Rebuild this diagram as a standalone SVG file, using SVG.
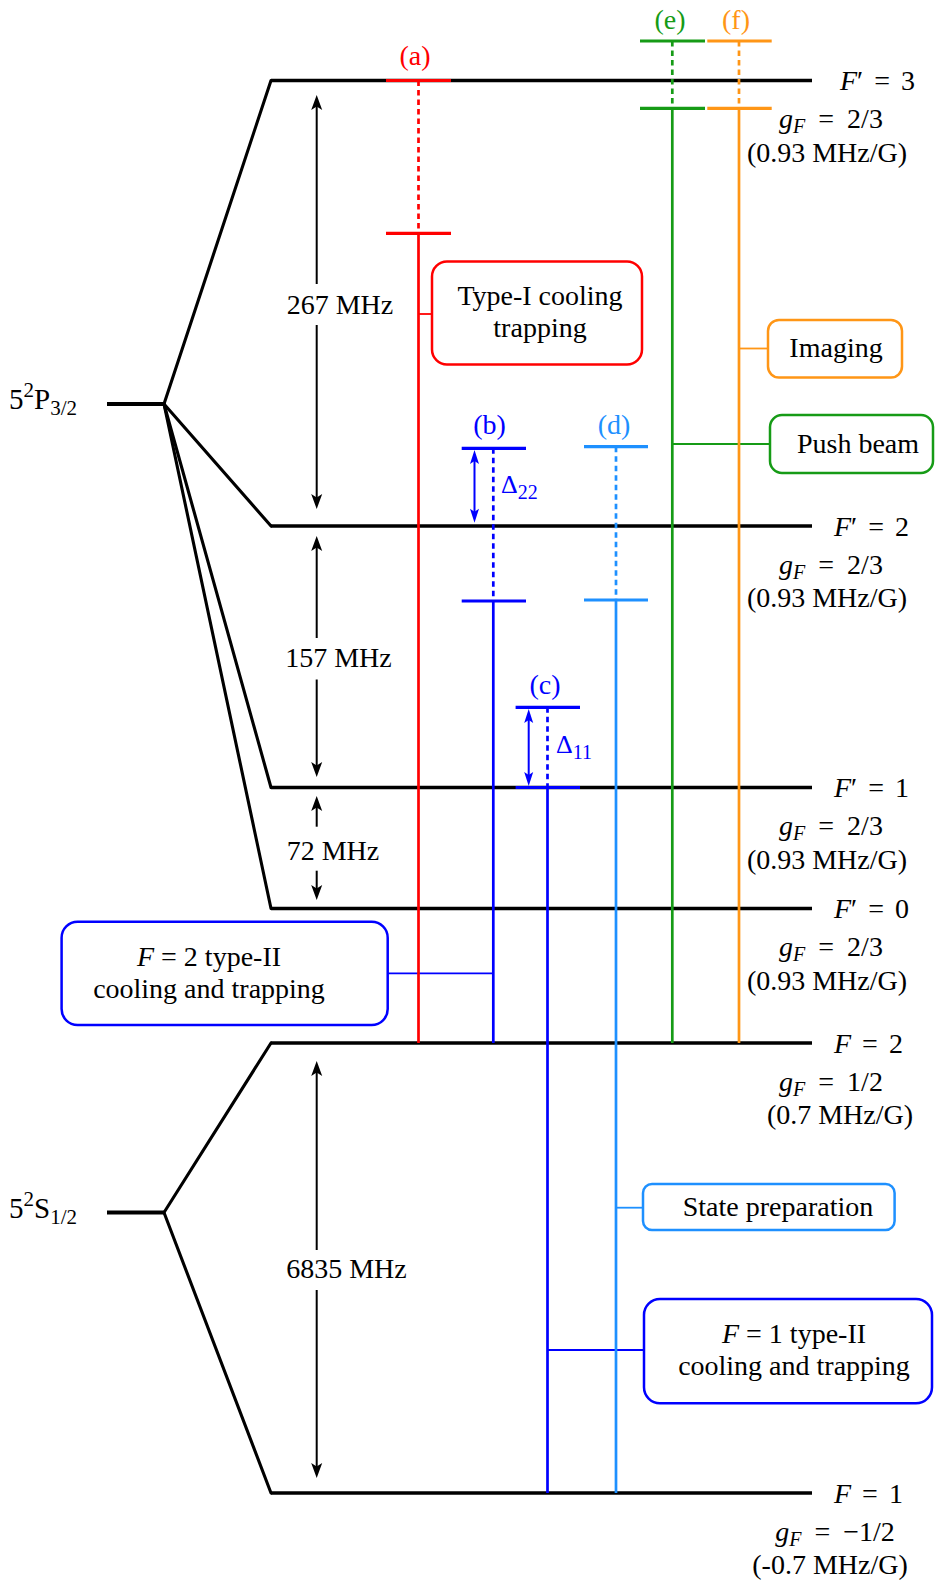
<svg xmlns="http://www.w3.org/2000/svg" width="935" height="1584" viewBox="0 0 935 1584">
<style>
text{font-family:"Liberation Serif","Times New Roman",serif;font-size:28px;fill:#000}
.it{font-style:italic}
.sub{font-size:20px}
.m{word-spacing:4px}
.g{word-spacing:6px}
.lvl{stroke:#000;stroke-width:3.4;fill:none}
.fan{stroke:#000;stroke-width:3.1;fill:none;stroke-linecap:round}
.box{fill:#fff;stroke-width:2.5}
.conn{stroke-width:1.8;fill:none}
.v{stroke-width:2.7;fill:none}
.d{stroke-width:2.7;fill:none;stroke-dasharray:5.5 4}
.tk{stroke-width:3.2;fill:none}
.arr{stroke:#000;stroke-width:2;fill:none}
.barr{stroke:#0000ff;stroke-width:2;fill:none}
.red{stroke:#ff0000}
.blue{stroke:#0000ff}
.lb{stroke:#1e90ff}
.grn{stroke:#169b16}
.org{stroke:#ff9616}
</style>
<defs>
<marker id="ah" markerUnits="userSpaceOnUse" viewBox="-10 -8 20 16" markerWidth="20" markerHeight="16" refX="0" refY="0" orient="auto-start-reverse">
<path d="M8,0 L-7,-5.5 L-3.5,0 L-7,5.5 Z" fill="#000"/>
</marker>
<marker id="bh" markerUnits="userSpaceOnUse" viewBox="-10 -8 20 16" markerWidth="20" markerHeight="16" refX="0" refY="0" orient="auto-start-reverse">
<path d="M6,0 L-8,-4.5 L-5,0 L-8,4.5 Z" fill="#0000ff"/>
</marker>
</defs>
<rect width="935" height="1584" fill="#fff"/>

<!-- fine structure and hyperfine levels -->
<g id="P32">
<line class="lvl" x1="107" y1="404" x2="164" y2="404" style="stroke-width:3.8"/>
<text x="9" y="409" style="font-size:29px">5<tspan class="sub" dy="-12" style="font-size:21px">2</tspan><tspan dy="12">P</tspan><tspan class="sub" dy="6" style="font-size:21px">3/2</tspan></text>
<line class="fan" x1="164" y1="404" x2="271" y2="80.5"/>
<line class="fan" x1="164" y1="404" x2="271" y2="526"/>
<line class="fan" x1="164" y1="404" x2="271" y2="787.5"/>
<line class="fan" x1="164" y1="404" x2="271" y2="908.5"/>
</g>
<g id="S12">
<line class="lvl" x1="107" y1="1212.5" x2="164" y2="1212.5" style="stroke-width:3.8"/>
<text x="9" y="1217.5" style="font-size:29px">5<tspan class="sub" dy="-12" style="font-size:21px">2</tspan><tspan dy="12">S</tspan><tspan class="sub" dy="6" style="font-size:21px">1/2</tspan></text>
<line class="fan" x1="164" y1="1212.5" x2="271" y2="1043"/>
<line class="fan" x1="164" y1="1212.5" x2="271" y2="1493"/>
</g>

<g id="Fp3">
<line class="lvl" x1="271" y1="80.5" x2="812" y2="80.5"/>
<text class="m" x="840" y="90"><tspan class="it">F</tspan>′ = 3</text>
<text class="g" x="831" y="128" text-anchor="middle"><tspan class="it">g</tspan><tspan class="it sub" dy="5">F</tspan><tspan dy="-5"> = 2/3</tspan></text>
<text x="827" y="161.5" text-anchor="middle">(0.93 MHz/G)</text>
</g>
<g id="Fp2">
<line class="lvl" x1="271" y1="526" x2="812" y2="526"/>
<text class="m" x="834" y="535.5"><tspan class="it">F</tspan>′ = 2</text>
<text class="g" x="831" y="573.5" text-anchor="middle"><tspan class="it">g</tspan><tspan class="it sub" dy="5">F</tspan><tspan dy="-5"> = 2/3</tspan></text>
<text x="827" y="607" text-anchor="middle">(0.93 MHz/G)</text>
</g>
<g id="Fp1">
<line class="lvl" x1="271" y1="787.5" x2="812" y2="787.5"/>
<text class="m" x="834" y="797"><tspan class="it">F</tspan>′ = 1</text>
<text class="g" x="831" y="835" text-anchor="middle"><tspan class="it">g</tspan><tspan class="it sub" dy="5">F</tspan><tspan dy="-5"> = 2/3</tspan></text>
<text x="827" y="868.5" text-anchor="middle">(0.93 MHz/G)</text>
</g>
<g id="Fp0">
<line class="lvl" x1="271" y1="908.5" x2="812" y2="908.5"/>
<text class="m" x="834" y="918"><tspan class="it">F</tspan>′ = 0</text>
<text class="g" x="831" y="956" text-anchor="middle"><tspan class="it">g</tspan><tspan class="it sub" dy="5">F</tspan><tspan dy="-5"> = 2/3</tspan></text>
<text x="827" y="989.5" text-anchor="middle">(0.93 MHz/G)</text>
</g>
<g id="F2">
<line class="lvl" x1="271" y1="1043" x2="812" y2="1043"/>
<text class="m" x="834" y="1052.5"><tspan class="it">F</tspan> = 2</text>
<text class="g" x="831" y="1090.5" text-anchor="middle"><tspan class="it">g</tspan><tspan class="it sub" dy="5">F</tspan><tspan dy="-5"> = 1/2</tspan></text>
<text x="840" y="1124" text-anchor="middle">(0.7 MHz/G)</text>
</g>
<g id="F1">
<line class="lvl" x1="271" y1="1493" x2="812" y2="1493"/>
<text class="m" x="834" y="1502.5"><tspan class="it">F</tspan> = 1</text>
<text class="g" x="835" y="1540.5" text-anchor="middle"><tspan class="it">g</tspan><tspan class="it sub" dy="5">F</tspan><tspan dy="-5"> = −1/2</tspan></text>
<text x="830" y="1574" text-anchor="middle">(-0.7 MHz/G)</text>
</g>

<!-- splitting arrows -->
<g id="splittings">
<line class="arr" x1="316.7" y1="284" x2="316.7" y2="103" marker-end="url(#ah)"/>
<line class="arr" x1="316.7" y1="325" x2="316.7" y2="501" marker-end="url(#ah)"/>
<text x="340" y="314" text-anchor="middle">267 MHz</text>
<line class="arr" x1="316.7" y1="638" x2="316.7" y2="544" marker-end="url(#ah)"/>
<line class="arr" x1="316.7" y1="679.5" x2="316.7" y2="769" marker-end="url(#ah)"/>
<text x="338.5" y="667" text-anchor="middle">157 MHz</text>
<line class="arr" x1="316.7" y1="826.7" x2="316.7" y2="804" marker-end="url(#ah)"/>
<line class="arr" x1="316.7" y1="870.7" x2="316.7" y2="892" marker-end="url(#ah)"/>
<text x="333" y="860" text-anchor="middle">72 MHz</text>
<line class="arr" x1="316.7" y1="1250" x2="316.7" y2="1069" marker-end="url(#ah)"/>
<line class="arr" x1="316.7" y1="1290" x2="316.7" y2="1470" marker-end="url(#ah)"/>
<text x="346.5" y="1278" text-anchor="middle">6835 MHz</text>
</g>

<!-- connectors from beams to their boxes -->
<g id="connectors">
<line class="conn red" x1="418.5" y1="314" x2="432" y2="314"/>
<line class="conn org" x1="739" y1="348.5" x2="768" y2="348.5"/>
<line class="conn grn" x1="672.3" y1="444" x2="770" y2="444"/>
<line class="conn blue" x1="387.7" y1="973.3" x2="493.3" y2="973.3"/>
<line class="conn lb" x1="616" y1="1207.7" x2="643" y2="1207.7"/>
<line class="conn blue" x1="547.5" y1="1350" x2="644" y2="1350"/>
</g>

<!-- laser beams -->
<g id="beam-a">
<line class="d red" x1="418.5" y1="80.5" x2="418.5" y2="233.3"/>
<line class="v red" x1="418.5" y1="233.3" x2="418.5" y2="1043"/>
<line class="tk red" x1="386" y1="80.5" x2="451" y2="80.5"/>
<line class="tk red" x1="386" y1="233.3" x2="451" y2="233.3"/>
<text x="415" y="65" text-anchor="middle" style="fill:#ff0000">(a)</text>
</g>
<g id="beam-b">
<line class="d blue" x1="493.3" y1="448.3" x2="493.3" y2="601"/>
<line class="v blue" x1="493.3" y1="601" x2="493.3" y2="1043"/>
<line class="tk blue" x1="461.7" y1="448.3" x2="526" y2="448.3"/>
<line class="tk blue" x1="461.7" y1="601" x2="526" y2="601"/>
<line class="barr" x1="474.5" y1="456" x2="474.5" y2="516.7" marker-start="url(#bh)" marker-end="url(#bh)"/>
<text x="489.5" y="433.5" text-anchor="middle" style="fill:#0000ff">(b)</text>
<text x="501" y="493.3" style="fill:#0000ff;font-size:26px">Δ<tspan dy="6" style="font-size:20px">22</tspan></text>
</g>
<g id="beam-c">
<line class="d blue" x1="547.5" y1="707.3" x2="547.5" y2="787.5"/>
<line class="v blue" x1="547.5" y1="787.5" x2="547.5" y2="1493"/>
<line class="tk blue" x1="515.6" y1="707.3" x2="580" y2="707.3"/>
<line class="tk blue" x1="515.6" y1="787.5" x2="580" y2="787.5"/>
<line class="barr" x1="528.7" y1="715" x2="528.7" y2="780" marker-start="url(#bh)" marker-end="url(#bh)"/>
<text x="545" y="693.5" text-anchor="middle" style="fill:#0000ff">(c)</text>
<text x="556" y="753" style="fill:#0000ff;font-size:26px">Δ<tspan dy="6" style="font-size:20px">11</tspan></text>
</g>
<g id="beam-d">
<line class="d lb" x1="616" y1="446.7" x2="616" y2="600"/>
<line class="v lb" x1="616" y1="600" x2="616" y2="1493"/>
<line class="tk lb" x1="584" y1="446.7" x2="648" y2="446.7"/>
<line class="tk lb" x1="584" y1="600" x2="648" y2="600"/>
<text x="614" y="433.5" text-anchor="middle" style="fill:#1e90ff">(d)</text>
</g>
<g id="beam-e">
<line class="d grn" x1="672.3" y1="41" x2="672.3" y2="108.3"/>
<line class="v grn" x1="672.3" y1="108.3" x2="672.3" y2="1043"/>
<line class="tk grn" x1="640" y1="41" x2="705" y2="41"/>
<line class="tk grn" x1="640" y1="108.3" x2="705" y2="108.3"/>
<text x="670" y="28.5" text-anchor="middle" style="fill:#169b16">(e)</text>
</g>
<g id="beam-f">
<line class="d org" x1="739" y1="41" x2="739" y2="108.3"/>
<line class="v org" x1="739" y1="108.3" x2="739" y2="1043"/>
<line class="tk org" x1="707.3" y1="41" x2="771.7" y2="41"/>
<line class="tk org" x1="707.3" y1="108.3" x2="771.7" y2="108.3"/>
<text x="736" y="28.5" text-anchor="middle" style="fill:#ff9616">(f)</text>
</g>

<!-- boxes -->
<g id="box-typeI">
<rect class="box red" x="432" y="261.5" width="210" height="103" rx="15"/>
<text x="540" y="305" text-anchor="middle">Type-I cooling</text>
<text x="540" y="337" text-anchor="middle">trapping</text>
</g>
<g id="box-imaging">
<rect class="box org" x="768" y="320" width="134" height="57.6" rx="11"/>
<text x="836" y="357" text-anchor="middle">Imaging</text>
</g>
<g id="box-push">
<rect class="box grn" x="770" y="415" width="163" height="58" rx="12"/>
<text x="858" y="452.5" text-anchor="middle">Push beam</text>
</g>
<g id="box-F2">
<rect class="box blue" x="61.6" y="921.7" width="326.1" height="103.3" rx="16"/>
<text x="209" y="965.5" text-anchor="middle"><tspan class="it">F</tspan> = 2 type-II</text>
<text x="209" y="997.5" text-anchor="middle">cooling and trapping</text>
</g>
<g id="box-state">
<rect class="box lb" x="643" y="1184" width="251.6" height="46" rx="9"/>
<text x="778" y="1215.5" text-anchor="middle">State preparation</text>
</g>
<g id="box-F1">
<rect class="box blue" x="644" y="1299" width="288" height="104.3" rx="16"/>
<text x="794" y="1343" text-anchor="middle"><tspan class="it">F</tspan> = 1 type-II</text>
<text x="794" y="1375" text-anchor="middle">cooling and trapping</text>
</g>
</svg>
